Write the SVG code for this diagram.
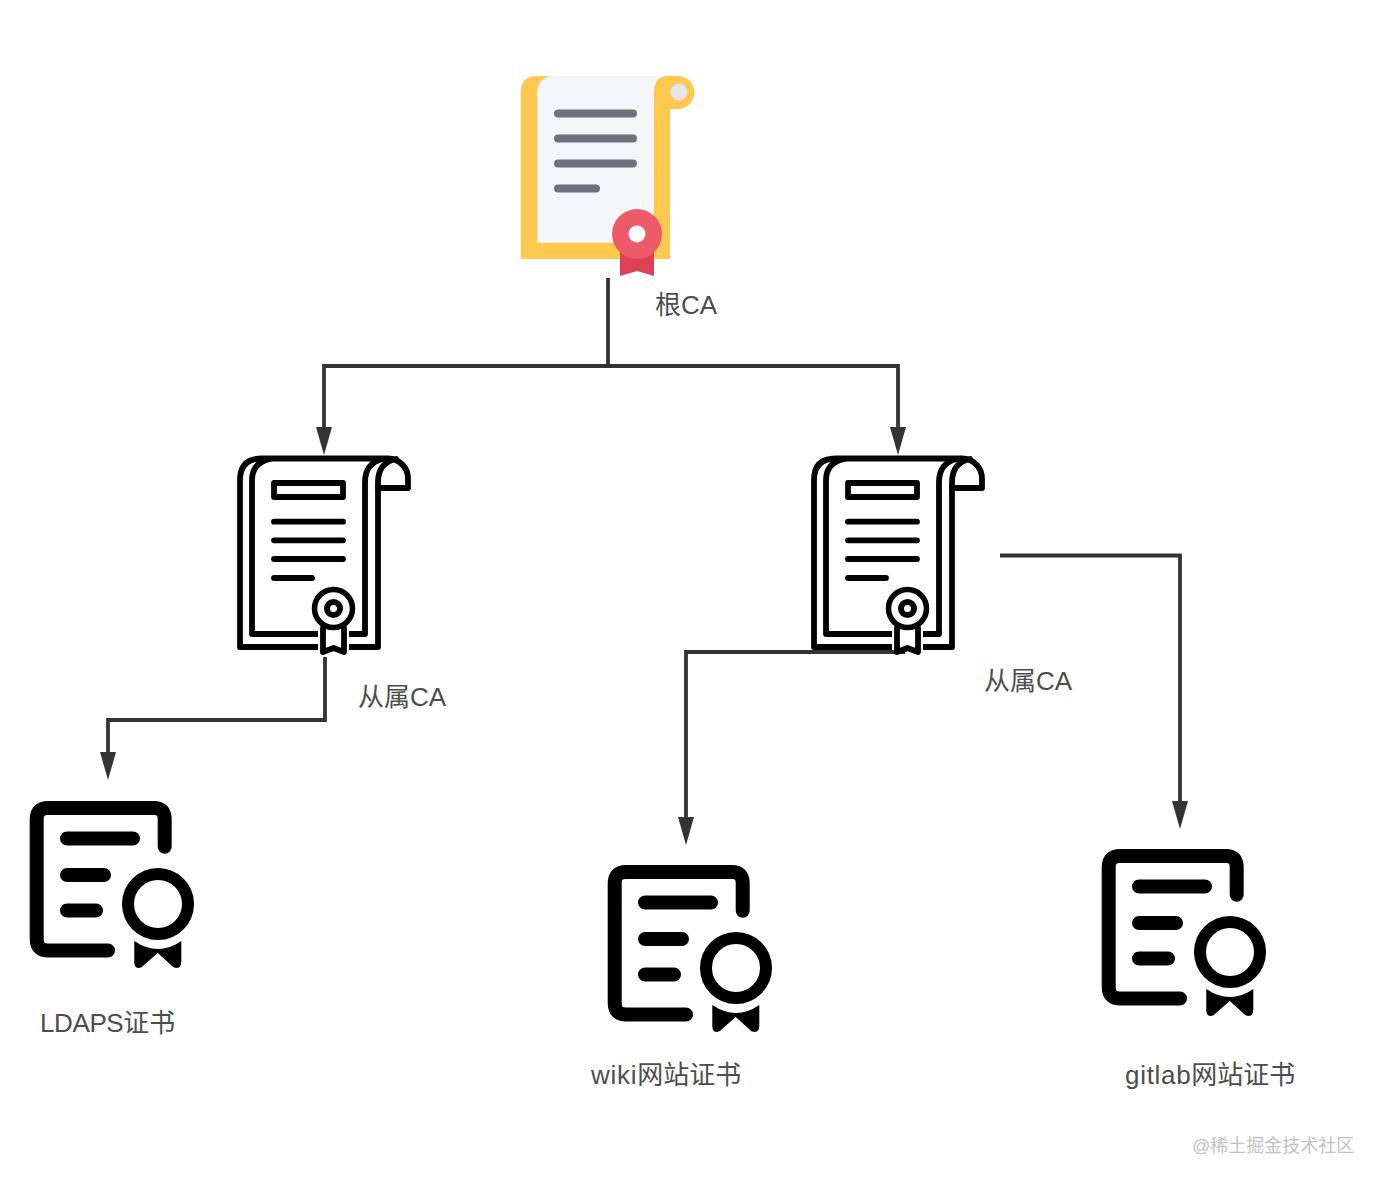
<svg xmlns="http://www.w3.org/2000/svg" width="1384" height="1186" viewBox="0 0 1384 1186">
<style>
text{font-family:"Liberation Sans","Noto Sans CJK SC",sans-serif;font-size:26px;fill:#4d4d4d}
.wm{font-size:18px;fill:#c2c2c2}
.wide{letter-spacing:.7px}
.tight{letter-spacing:-.4px}
.conn{fill:none;stroke:#333;stroke-width:3.8}
.k{fill:none;stroke:#000;stroke-width:5.800;stroke-linecap:round;stroke-linejoin:round}
.c{fill:none;stroke:#000;stroke-width:14;stroke-linecap:round;stroke-linejoin:round}
.g{stroke:#6d717a;stroke-width:8;stroke-linecap:round}
</style>
<defs>
<marker id="arrow" markerUnits="userSpaceOnUse" markerWidth="28" markerHeight="18" refX="0" refY="9" orient="auto">
<path d="M0 1L28 9L0 17Z" fill="#333"/>
</marker>
<g id="sub-icon">
<path class="k" d="M240 647V480Q240 458.500 262 458.500H388A20 20 0 0 1 408 478.500V488H378V647H240"/>
<path class="k" d="M378 488V482Q378 463 396 459M365 634V482Q365 463 383 459M365 634H252V480Q252 463 270 459"/>
<rect class="k" x="274" y="483" width="69" height="14"/>
<path class="k" d="M274 521.700H343M274 540.300H343M274 559H343M274 578H312"/>
<rect x="318" y="622" width="31" height="28" fill="#fff" stroke="none"/>
<circle cx="333.500" cy="608.500" r="19" fill="#fff" stroke="#000" stroke-width="5.500"/>
<circle cx="333.500" cy="608.500" r="6.500" fill="#fff" stroke="#000" stroke-width="6"/>
<path class="k" d="M323 628V652L333.500 648L344 652V628"/>
</g>
<g id="cert-icon">
<path class="c" d="M164.700 846.700V819Q164.700 808 154 808H48Q36.700 808 36.700 819V939Q36.700 950.500 48 950.500H108"/>
<path class="c" d="M67 838.500H133M67 875H104M67 910.500H96"/>
<circle cx="158" cy="904" r="30" fill="none" stroke="#000" stroke-width="12"/>
<path d="M134.300 941Q158 957 181.300 941V962Q181.300 968 176 968Q173 968 171 965L157.700 953L144 965Q142 968 139 968Q134.300 968 134.300 962Z" fill="#000"/>
</g>
</defs>
<g id="connectors">
<path class="conn" d="M608 278V366"/>
<path class="conn" d="M608 366H324V427" marker-end="url(#arrow)"/>
<path class="conn" d="M608 366H898V427" marker-end="url(#arrow)"/>
<path class="conn" d="M325 657V720H108V752" marker-end="url(#arrow)"/>
<path class="conn" d="M905 652H686V817" marker-end="url(#arrow)"/>
<path class="conn" d="M1000 555.500H1180V801" marker-end="url(#arrow)"/>
</g>
<g id="root-ca">
<path d="M520.700 259V92Q520.700 76 537 76H678A16.500 16.500 0 0 1 678 109H670V259Z" fill="#ffc94f"/>
<path d="M537.300 242.700V92Q537.300 78 552 76H666Q654 78 654 92V242.700Z" fill="#f5f6fb"/>
<circle cx="679" cy="92" r="8.500" fill="#e4e6eb"/>
<path class="g" d="M558 113.500H633M558 138.500H633M558 163.500H633M558 188.500H596"/>
<path d="M620 250H654V276L637 271L620 276Z" fill="#dc4155"/>
<circle cx="637" cy="234" r="25" fill="#ee5a67"/>
<circle cx="637" cy="234" r="8.500" fill="#fff"/>
<text x="655" y="314">根CA</text>
</g>
<g id="sub-ca-1">
<use href="#sub-icon"/>
<text x="358" y="706">从属CA</text>
</g>
<g id="sub-ca-2">
<use href="#sub-icon" x="574"/>
<text x="984" y="690">从属CA</text>
</g>
<g id="ldaps-cert">
<use href="#cert-icon"/>
<text x="40" y="1032"><tspan class="tight">LDAPS</tspan>证书</text>
</g>
<g id="wiki-cert">
<use href="#cert-icon" x="578" y="64"/>
<text x="591" y="1084"><tspan class="wide">wiki</tspan>网站证书</text>
</g>
<g id="gitlab-cert">
<use href="#cert-icon" x="1072" y="48"/>
<text x="1125" y="1084"><tspan class="wide">gitlab</tspan>网站证书</text>
</g>
<text class="wm" x="1192" y="1152">@稀土掘金技术社区</text>
</svg>
